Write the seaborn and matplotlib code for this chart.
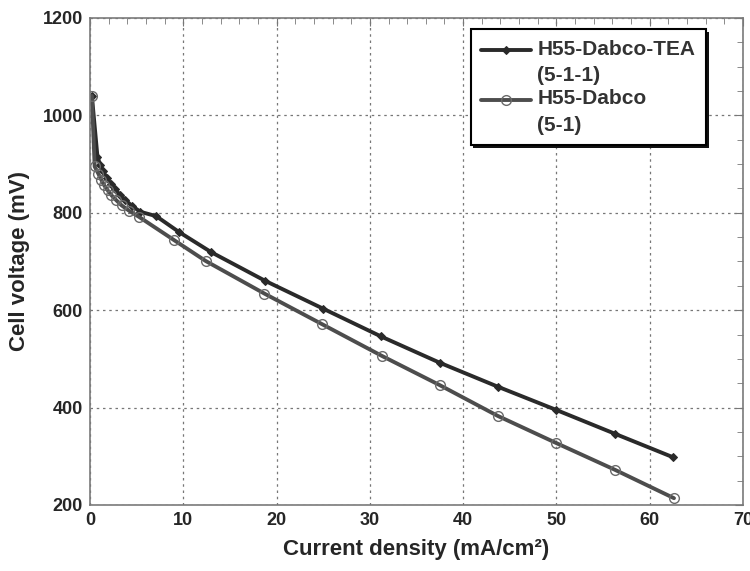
import numpy as np
import pandas as pd
import matplotlib
matplotlib.use("Agg")
import matplotlib.pyplot as plt
from matplotlib.ticker import MultipleLocator
from matplotlib.legend_handler import HandlerLine2D
import seaborn as sns

# values
tea_x = [0.2, 0.8, 1.1, 1.4, 1.8, 2.2, 2.7, 3.2, 3.8, 4.5, 5.4, 7.1, 9.5, 13.0,
         18.8, 25.0, 31.2, 37.5, 43.7, 50.0, 56.3, 62.5]
tea_y = [1040, 915, 898, 885, 872, 860, 848, 837, 826, 814, 802, 793, 761, 719,
         660, 603, 546, 492, 443, 395, 346, 298]

dabco_x = [0.2, 0.5, 0.9, 1.2, 1.5, 1.9, 2.3, 2.8, 3.4, 4.2, 5.3, 9.0, 12.4,
           18.7, 24.9, 31.3, 37.5, 43.7, 50.0, 56.3, 62.6]
dabco_y = [1040, 895, 880, 868, 857, 846, 836, 826, 815, 804, 791, 744, 701,
           634, 571, 506, 446, 383, 327, 272, 214]

labels = ["H55-Dabco-TEA\n(5-1-1)", "H55-Dabco\n(5-1)"]

df_tea = pd.DataFrame({"x": tea_x, "y": tea_y})
df_dabco = pd.DataFrame({"x": dabco_x, "y": dabco_y})


# legend handle sits on the first text line, like the original
class FirstLineHandler(HandlerLine2D):
    def create_artists(self, legend, orig_handle, xdescent, ydescent, width,
                       height, fontsize, trans):
        return super().create_artists(legend, orig_handle, xdescent,
                                      ydescent - 1.2 * fontsize, width, height,
                                      fontsize, trans)


sns.set_style("white")
plt.rcParams["font.family"] = ["Liberation Sans", "DejaVu Sans"]
plt.rcParams["font.weight"] = "bold"

fig = plt.figure(figsize=(7.5, 5.71), dpi=100)
ax = fig.add_axes([0.12, 0.1156, 0.8707, 0.853])

sns.lineplot(data=df_tea, x="x", y="y", ax=ax, color="#2a2a2a", linewidth=2.8,
             marker="D", markersize=4, markeredgecolor="#2a2a2a",
             markerfacecolor="#2a2a2a", label=labels[0])
sns.lineplot(data=df_dabco, x="x", y="y", ax=ax, color="#4d4d4d", linewidth=2.8,
             marker="o", markersize=7, markeredgecolor="#6a6a6a",
             markerfacecolor="none", markeredgewidth=1.0, label=labels[1])

ax.set_xlim(0, 70)
ax.set_ylim(200, 1200)
ax.xaxis.set_major_locator(MultipleLocator(10))
ax.xaxis.set_minor_locator(MultipleLocator(2))
ax.yaxis.set_major_locator(MultipleLocator(200))
ax.yaxis.set_minor_locator(MultipleLocator(50))

ax.grid(True, which="major", linestyle=(0, (2, 3)), color="#777777", linewidth=0.9)
ax.tick_params(which="both", direction="in", top=True, right=True, color="#777777")
ax.tick_params(which="major", length=6, labelsize=13, pad=5)
ax.tick_params(which="minor", length=4)
for lab in ax.get_xticklabels() + ax.get_yticklabels():
    lab.set_fontweight("bold")
for sp in ax.spines.values():
    sp.set_color("#7a7a7a")
    sp.set_linewidth(1.2)

ax.set_xlabel("Current density (mA/cm²)", fontsize=16, fontweight="bold", labelpad=7)
ax.set_ylabel("Cell voltage (mV)", fontsize=16, fontweight="bold", labelpad=9)

handles, _ = ax.get_legend_handles_labels()
leg = ax.legend(handles, labels, loc="upper right", bbox_to_anchor=(0.943, 0.977),
                borderaxespad=0, fancybox=False, edgecolor="black", framealpha=1,
                fontsize=15, handlelength=2.4, handletextpad=0.3, borderpad=0.5,
                labelspacing=0.2,
                handler_map={h: FirstLineHandler() for h in handles},
                shadow={"color": "#111111", "alpha": 1, "linewidth": 0})
leg.get_frame().set_linewidth(1.5)
for t in leg.get_texts():
    t.set_fontweight("bold")
    t.set_color("#333333")
    t.set_linespacing(1.5)

fig.savefig("out.png", dpi=100)
